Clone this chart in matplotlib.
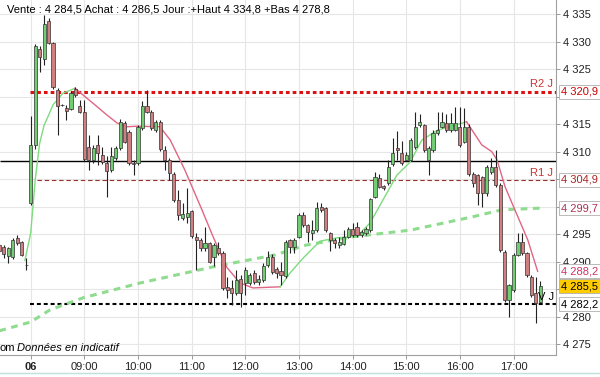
import matplotlib
matplotlib.use("Agg")
import matplotlib.pyplot as plt
from matplotlib.patches import Rectangle
from matplotlib.lines import Line2D

plt.rcParams["font.family"] = ["Liberation Sans", "DejaVu Sans"]

# 5-minute candles, index 0 = 08:00 of day 06 (negative = previous session)
idx = list(range(-7, 115))
opens = [4293.0, 4292.7, 4291.0, 4290.8, 4294.3, 4293.6, 4289.4,
         4300.6, 4311.2, 4328.6, 4326.8, 4333.8, 4329.8, 4321.2, 4318.5, 4318.0, 4317.7,
         4321.3, 4318.3, 4317.2, 4310.9, 4308.5, 4311.2, 4309.4, 4307.9, 4306.6, 4308.8,
         4310.6, 4315.1, 4313.6, 4307.9, 4307.9, 4314.2, 4318.2, 4317.2, 4313.9, 4315.4,
         4310.3, 4308.5, 4305.9, 4301.2, 4298.0, 4298.1, 4299.1, 4294.5, 4294.0, 4292.4,
         4293.3, 4290.9, 4292.4, 4291.6, 4285.4, 4285.1, 4284.2, 4286.9, 4286.1, 4286.1,
         4287.9, 4286.3, 4286.6, 4289.4, 4290.9, 4288.6, 4288.3, 4287.4, 4293.9, 4292.7,
         4294.5, 4298.5, 4296.6, 4295.2, 4295.7, 4300.0, 4299.7, 4295.2, 4293.9, 4293.0,
         4293.2, 4294.5, 4296.0, 4296.3, 4294.8, 4295.2, 4295.7, 4301.8, 4305.1, 4303.7,
         4304.3, 4307.7, 4310.6, 4309.7, 4308.5, 4308.5, 4310.9, 4314.8, 4314.8, 4308.5,
         4310.3, 4313.3, 4314.5, 4315.1, 4313.9, 4314.0, 4314.5, 4311.8, 4314.5, 4306.0,
         4305.7, 4305.4, 4302.4, 4306.3, 4307.1, 4303.9, 4291.8, 4283.0, 4284.8, 4291.2,
         4293.6, 4291.5, 4287.2, 4284.2, 4282.7]
highs = [4293.3, 4293.0, 4292.7, 4294.3, 4294.8, 4293.8, 4290.6,
         4316.5, 4329.5, 4329.1, 4334.8, 4334.2, 4330.0, 4321.5, 4318.6, 4318.5, 4321.0,
         4321.7, 4319.4, 4319.4, 4313.0, 4311.2, 4313.0, 4310.9, 4309.1, 4310.9, 4311.0,
         4315.9, 4315.6, 4314.0, 4308.5, 4314.8, 4319.1, 4321.2, 4317.5, 4315.7, 4315.8,
         4311.0, 4308.8, 4306.2, 4303.0, 4300.6, 4303.3, 4299.4, 4295.1, 4294.3, 4296.3,
         4293.6, 4293.3, 4293.6, 4292.0, 4287.2, 4286.6, 4288.5, 4287.5, 4289.0, 4288.0,
         4288.5, 4287.5, 4289.8, 4292.0, 4291.3, 4289.0, 4290.0, 4294.0, 4294.1, 4294.3,
         4298.8, 4299.0, 4296.8, 4297.5, 4300.9, 4300.6, 4300.0, 4295.4, 4294.3, 4294.5,
         4295.7, 4296.2, 4297.0, 4297.2, 4295.8, 4296.3, 4301.6, 4306.3, 4306.0, 4303.9,
         4308.5, 4312.5, 4313.7, 4312.0, 4310.0, 4312.5, 4317.2, 4316.9, 4315.0, 4311.0,
         4314.0, 4317.2, 4317.2, 4316.9, 4317.0, 4318.1, 4318.1, 4317.9, 4315.0, 4306.3,
         4306.0, 4305.6, 4307.5, 4308.8, 4310.3, 4304.2, 4292.1, 4286.0, 4291.5, 4295.1,
         4295.1, 4291.8, 4287.5, 4287.2, 4286.5]
lows = [4291.5, 4290.6, 4289.7, 4290.5, 4293.0, 4291.0, 4288.5,
        4300.3, 4310.5, 4324.5, 4325.7, 4329.5, 4321.3, 4313.0, 4318.2, 4315.7, 4317.5,
        4320.0, 4317.0, 4308.3, 4306.6, 4308.0, 4307.5, 4307.8, 4301.8, 4306.3, 4308.5,
        4310.3, 4311.5, 4307.6, 4305.7, 4307.6, 4313.9, 4317.0, 4314.0, 4313.6, 4310.1,
        4306.6, 4304.8, 4300.8, 4297.5, 4297.5, 4297.0, 4294.3, 4288.5, 4292.0, 4292.0,
        4289.7, 4289.1, 4291.2, 4284.8, 4283.3, 4282.1, 4284.0, 4281.8, 4284.0, 4285.8,
        4286.0, 4285.8, 4286.3, 4289.0, 4287.8, 4287.0, 4285.7, 4287.0, 4291.5, 4291.5,
        4294.2, 4296.3, 4293.6, 4294.0, 4295.4, 4299.0, 4295.4, 4292.0, 4292.4, 4292.5,
        4293.0, 4294.2, 4294.5, 4294.5, 4294.5, 4294.9, 4295.4, 4301.5, 4303.3, 4303.0,
        4304.0, 4307.4, 4308.5, 4307.6, 4308.2, 4308.2, 4310.5, 4314.5, 4310.0, 4305.7,
        4310.0, 4313.0, 4314.2, 4313.5, 4313.6, 4313.7, 4310.9, 4311.5, 4305.5, 4303.5,
        4300.3, 4300.0, 4302.0, 4306.0, 4303.6, 4291.8, 4282.7, 4280.0, 4284.5, 4291.0,
        4291.2, 4287.2, 4283.6, 4278.8, 4282.4]
closes = [4292.0, 4291.3, 4292.4, 4294.0, 4293.3, 4291.2, 4289.3,
          4311.2, 4329.1, 4327.1, 4333.2, 4329.8, 4321.7, 4318.3, 4318.4, 4317.3, 4320.6,
          4320.3, 4317.1, 4308.6, 4308.5, 4310.6, 4309.7, 4308.1, 4306.5, 4309.1, 4310.6,
          4315.4, 4311.8, 4307.9, 4307.8, 4314.4, 4318.3, 4317.2, 4314.2, 4315.4, 4310.4,
          4308.5, 4306.1, 4301.1, 4298.5, 4298.6, 4298.8, 4294.6, 4294.0, 4292.4, 4293.3,
          4290.0, 4293.0, 4291.5, 4285.1, 4284.8, 4284.2, 4286.6, 4284.2, 4288.5, 4287.5,
          4286.3, 4286.9, 4289.2, 4290.9, 4288.1, 4287.9, 4287.5, 4293.6, 4292.7, 4294.0,
          4298.5, 4296.6, 4295.4, 4295.7, 4299.7, 4299.4, 4295.7, 4293.9, 4293.3, 4293.6,
          4294.5, 4295.9, 4294.8, 4294.8, 4295.4, 4296.0, 4301.3, 4305.4, 4303.6, 4303.4,
          4307.2, 4309.7, 4310.2, 4307.9, 4309.4, 4312.1, 4314.5, 4315.4, 4310.3, 4310.6,
          4313.3, 4313.9, 4315.4, 4313.9, 4315.1, 4315.2, 4311.2, 4314.5, 4306.0, 4304.2,
          4302.4, 4302.4, 4307.1, 4307.1, 4303.9, 4292.1, 4283.0, 4285.7, 4291.2, 4293.6,
          4291.5, 4287.5, 4283.9, 4282.4, 4285.5]

# short moving average (green above price, pink below)
ma_idx = [-1.3, 0, 1, 2, 3, 4, 5, 7.2, 9.9, 13.9, 17.1, 19.3, 21.5, 23.8, 28.9,
          31.2, 34.5, 38.3, 40.8, 43.8, 46.8, 49.7, 55.8, 58.0, 60.9, 64.7, 68.5,
          73.0, 75.9, 78.8, 81.9, 84.9, 87.5, 91.1, 94.9, 97.5, 100.9, 103.1, 104.3,
          106.1, 108.3, 111.2, 113.4]
ma_val = [4290.2, 4295.2, 4304.8, 4311.5, 4314.8, 4316.6, 4318.5, 4320.6, 4321.5,
          4318.8, 4316.6, 4315.2, 4314.5, 4314.6, 4314.5, 4312.1, 4306.6, 4299.4,
          4294.5, 4289.0, 4286.1, 4285.2, 4285.4, 4287.9, 4290.6, 4293.7, 4294.3,
          4294.6, 4297.0, 4301.2, 4305.7, 4308.1, 4312.1, 4313.9, 4314.8, 4315.4,
          4311.2, 4310.0, 4308.5, 4303.6, 4299.4, 4293.9, 4288.2]
ma_breaks = [9.9, 55.8, 97.5]

# long moving average (dashed)
trend_idx = [-7, 0, 4.3, 11.7, 24.5, 41.2, 54.7, 61.7, 72.1, 84.9, 98.7, 105.4, 113.9]
trend_val = [4277.4, 4279.0, 4281.2, 4283.4, 4286.1, 4289.1, 4291.2, 4293.0,
             4294.5, 4295.7, 4298.1, 4299.4, 4299.7]

r2_level = 4320.9
r1_level = 4304.9
pivot_level = 4308.3
low_level = 4282.2
last_price = 4285.5

hour_idx = [0, 12, 24, 36, 48, 60, 72, 84, 96, 108]
hour_labels = ["06", "09:00", "10:00", "11:00", "12:00", "13:00", "14:00",
               "15:00", "16:00", "17:00"]
price_ticks = list(range(4275, 4340, 5))
hidden_ticks = [4285, 4300, 4305, 4320]  # sit under the value boxes

header = "Vente : 4 284,5 Achat : 4 286,5 Jour :+Haut 4 334,8 +Bas 4 278,8"


def fr(v, dec=1):
    s = f"{v:,.{dec}f}"
    return s.replace(",", " ").replace(".", ",")


fig = plt.figure(figsize=(6, 3.77), dpi=100, facecolor="white")
ax = fig.add_axes([0, 22 / 377, 556 / 600, 355 / 377])
ax.set_xlim(-6.87, 117.5)
ax.set_ylim(4273.0, 4337.55)

for s in ["top", "left"]:
    ax.spines[s].set_visible(False)
for s in ["right", "bottom"]:
    ax.spines[s].set_color("#a0a0a0")
    ax.spines[s].set_linewidth(0.8)

ax.yaxis.tick_right()
ax.set_yticks(price_ticks)
ax.set_yticklabels(["" if v in hidden_ticks else fr(v, 0) for v in price_ticks])
ax.set_xticks(hour_idx)
ax.set_xticklabels(hour_labels)
ax.get_xticklabels()[0].set_fontweight("bold")
ax.tick_params(axis="both", labelsize=8, length=3, width=0.6, color="#888888",
               pad=2, labelcolor="#222222")
ax.grid(True, color="#e6e6e6", lw=0.8, zorder=0)
ax.set_axisbelow(True)

# level lines
ax.hlines(pivot_level, -6.87, 117.5, color="black", lw=1.0, zorder=2)
ax.hlines(r1_level, 1.3, 117.5, color="#993333", lw=0.8, linestyles=(0, (4, 2.5)), zorder=2)
ax.hlines(r2_level, -0.2, 117.5, color="#dd1111", lw=2.2, linestyles=(0, (1.2, 1.0)), zorder=2)
ax.hlines(low_level, -0.2, 117.5, color="black", lw=1.5, linestyles=(0, (1.9, 1.4)), zorder=2)

# long MA
ax.plot(trend_idx, trend_val, color="#8fdc8f", lw=2.2, dashes=(2.2, 1.8), zorder=2)

# short MA, split by colour
segs = [-100] + ma_breaks + [1000]
for k in range(len(segs) - 1):
    xs = [x for x in ma_idx if segs[k] <= x <= segs[k + 1]]
    ys = [v for x, v in zip(ma_idx, ma_val) if segs[k] <= x <= segs[k + 1]]
    ax.plot(xs, ys, color="#7ddc7d" if k % 2 == 0 else "#e06684", lw=1.0, zorder=3)

# candles
w = 0.72
for i, o, h, l, c in zip(idx, opens, highs, lows, closes):
    ax.vlines(i, l, h, color="#222222", lw=0.8, zorder=4)
    col = "#72cc72" if c >= o else "#cf7f7f"
    bot = min(o, c)
    hgt = max(abs(c - o), 0.12)
    ax.add_patch(Rectangle((i - w / 2, bot), w, hgt, facecolor=col,
                           edgecolor="#333333", lw=0.5, zorder=5))

# labels on the chart
ax.text(116.8, r2_level + 1.4, "R2 J", ha="right", va="center", fontsize=8, color="#cc3333", zorder=6)
ax.text(116.8, r1_level + 1.2, "R1 J", ha="right", va="center", fontsize=8, color="#cc3333", zorder=6)
ax.text(117.1, low_level + 1.3, "V J", ha="right", va="center", fontsize=8, color="black", zorder=6)

ax.text(7 / 556, 1 - 10 / 355, header, transform=ax.transAxes, fontsize=8,
        va="center", ha="left", color="black", zorder=6)
ax.text(0, 7 / 355, "om", transform=ax.transAxes, fontsize=8, va="center", ha="left", zorder=6)
ax.text(17 / 556, 7 / 355, "Données en indicatif", transform=ax.transAxes, fontsize=8,
        va="center", ha="left", style="italic", zorder=6)

# value boxes on the price scale
tr = ax.get_yaxis_transform()
boxes = [
    (r2_level, "#cc0000", "white"),
    (r1_level, "#aa2222", "white"),
    (trend_val[-1], "#aa3355", "white"),
    (ma_val[-1], "#cc3366", "white"),
    (low_level, "black", "white"),
    (last_price, "black", "#ffcc00"),
]
for val, tc, fc in boxes:
    ax.text(1.009, val, fr(val), transform=tr, fontsize=8, color=tc, va="center",
            ha="left", clip_on=False, zorder=7,
            bbox=dict(boxstyle="square,pad=0.18", fc=fc, ec="#b0b0b0", lw=0.6))

fig.add_artist(Line2D([0, 1], [4 / 377, 4 / 377], color="#bfe0dc", lw=1.0))

fig.savefig("out.png", dpi=100, facecolor="white")
